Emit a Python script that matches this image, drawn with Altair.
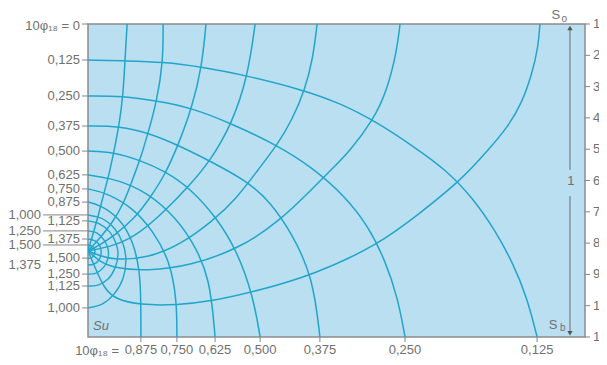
import altair as alt
import pandas as pd

# ---------------- data (units: divisions of the right-hand scale 1..11) ----------------
X_MAX = 15.88

# equipotential lines (10*phi18), from the left wall round the focus Su
e0125_x = [0, 1.25, 2.36, 3.64, 5.11, 6.77, 8.05, 9.27, 10.38, 11.41, 12.30, 13.00, 13.58, 14.03, 14.35]
e0125_y = [2.15, 2.18, 2.21, 2.37, 2.66, 3.08, 3.52, 4.16, 4.90, 5.63, 6.56, 7.58, 8.64, 9.75, 11.0]
e0250_x = [0, 1.12, 2.20, 3.32, 4.60, 6.04, 7.19, 8.21, 8.95, 9.49, 9.90, 10.13]
e0250_y = [3.30, 3.30, 3.46, 3.68, 4.19, 4.87, 5.60, 6.50, 7.45, 8.54, 9.75, 11.0]
e0375_x = [0, 1.02, 1.92, 2.88, 3.90, 5.08, 5.81, 6.55, 7.19, 7.41]
e0375_y = [4.26, 4.26, 4.48, 4.87, 5.38, 6.02, 6.66, 7.74, 9.12, 11.0]
e0500_x = [0, 0.80, 1.66, 2.46, 3.26, 4.12, 4.76, 5.27, 5.50]
e0500_y = [5.06, 5.09, 5.35, 5.70, 6.24, 7.20, 8.25, 9.66, 11.0]
e0625_x = [0, 0.70, 1.66, 2.62, 3.35, 3.90, 4.06]
e0625_y = [5.82, 5.92, 6.24, 6.97, 7.93, 9.12, 11.0]
e0750_x = [0, 0.61, 1.44, 2.08, 2.62, 2.84, 2.84]
e0750_y = [6.27, 6.40, 6.88, 7.61, 8.57, 9.85, 11.0]
e0875_x = [0, 0.38, 1.02, 1.44, 1.66, 1.69, 1.69]
e0875_y = [6.69, 6.78, 7.20, 7.93, 8.89, 9.91, 11.0]
e1000_x = [0, 0.48, 0.86, 1.12, 1.21, 1.12, 0.83, 0.45, 0]
e1000_y = [7.10, 7.23, 7.55, 8.03, 8.54, 9.12, 9.63, 9.95, 10.07]
e1125_x = [0, 0.38, 0.70, 0.89, 0.96, 0.86, 0.64, 0.32, 0]
e1125_y = [7.29, 7.39, 7.65, 8.00, 8.35, 8.80, 9.15, 9.34, 9.37]
e1250_x = [0, 0.29, 0.51, 0.64, 0.64, 0.51, 0.26, 0]
e1250_y = [7.61, 7.68, 7.90, 8.19, 8.48, 8.76, 8.96, 8.99]
e1375_x = [0, 0.22, 0.38, 0.42, 0.35, 0.19, 0]
e1375_y = [7.87, 7.93, 8.09, 8.32, 8.54, 8.67, 8.70]
e1500_x = [0, 0.16, 0.22, 0.19, 0.10, 0]
e1500_y = [8.06, 8.12, 8.25, 8.38, 8.48, 8.48]

# flow lines from the focus Su to the top edge
f1_x = [1.25, 1.18, 1.12, 0.99, 0.83, 0.67, 0.51, 0.35, 0.19, 0]
f1_y = [1.0, 2.18, 3.30, 4.26, 5.06, 5.82, 6.40, 7.04, 7.61, 8.25]
f2_x = [2.40, 2.40, 2.20, 1.92, 1.66, 1.44, 1.15, 0.77, 0.38, 0]
f2_y = [1.0, 2.21, 3.46, 4.48, 5.35, 5.92, 6.72, 7.36, 7.84, 8.25]
f3_x = [3.77, 3.64, 3.32, 2.88, 2.46, 1.98, 1.50, 0.86, 0.38, 0]
f3_y = [1.0, 2.37, 3.68, 4.87, 5.82, 6.56, 7.20, 7.74, 8.06, 8.25]
f4_x = [5.34, 5.11, 4.60, 3.90, 3.26, 2.46, 1.66, 0.86, 0]
f4_y = [1.0, 2.66, 4.19, 5.38, 6.14, 6.97, 7.68, 8.09, 8.25]
f5_x = [7.32, 7.19, 6.93, 6.52, 6.04, 5.43, 4.76, 3.99, 2.94, 1.89, 0.86, 0.38, 0]
f5_y = [1.0, 2.09, 3.11, 4.07, 4.87, 5.66, 6.56, 7.29, 8.06, 8.48, 8.54, 8.41, 8.25]
f6_x = [9.97, 9.87, 9.55, 9.11, 8.37, 7.73, 7.19, 6.13, 4.86, 3.26, 1.89, 0.86, 0.38, 0]
f6_y = [1.0, 1.86, 3.14, 4.07, 5.06, 5.70, 6.24, 7.29, 8.16, 8.73, 8.89, 8.80, 8.60, 8.25]
f7_x = [0, 0.26, 0.51, 0.86, 1.66, 2.84, 3.99, 5.40, 7.19, 9.27, 10.61, 11.89, 12.84, 13.39, 13.87, 14.19, 14.38, 14.44]
f7_y = [8.25, 8.86, 9.43, 9.79, 9.98, 9.98, 9.85, 9.53, 9.02, 8.06, 7.04, 6.02, 4.96, 4.32, 3.52, 2.57, 1.77, 1.0]

# left-hand labels (where the equipotentials meet the wall)
left_inner_labels = ["0,125", "0,250", "0,375", "0,500", "0,625", "0,750", "0,875",
                     "1,125", "1,375", "1,500", "1,250", "1,125", "1,000"]
left_inner_y = [2.15, 3.30, 4.26, 5.06, 5.82, 6.27, 6.69, 7.29, 7.87, 8.48, 8.99, 9.37, 10.07]
left_outer_labels = ["1,000", "1,250", "1,500", "1,375"]
left_outer_y = [7.10, 7.61, 8.06, 8.70]
left_outer_line = [True, True, True, False]
top_label = "10φ₁₈ = 0"
top_label_y = [1.0]

# bottom labels (where the equipotentials meet the bottom)
bottom_labels = ["0,875", "0,750", "0,625", "0,500", "0,375", "0,250", "0,125"]
bottom_x = [1.69, 2.84, 4.06, 5.50, 7.41, 10.13, 14.35]
bottom_prefix = "10φ₁₈ ="

# right-hand scale
right_ticks = list(range(1, 12))

# annotations
arrow_x = 15.40
arrow_seg_y1 = [1.19, 6.50]
arrow_seg_y2 = [5.66, 10.81]
arrow_head_up_y = 1.13
arrow_head_down_y = 10.88
arrow_label = "1"
arrow_label_y = 6.02
notes_text = ["S", "o", "S", "b"]
notes_x = [14.95, 15.22, 14.86, 15.17]
notes_y = [0.70, 0.84, 10.62, 10.72]
notes_size = [13, 10, 13, 10]
su_text = "Su"
su_x = 0.16
su_y = 10.66

# ---------------- build tables ----------------
big_curves = [
    ("e0125", e0125_x, e0125_y), ("e0250", e0250_x, e0250_y), ("e0375", e0375_x, e0375_y),
    ("e0500", e0500_x, e0500_y), ("e0625", e0625_x, e0625_y), ("e0750", e0750_x, e0750_y),
    ("e0875", e0875_x, e0875_y),
    ("f1", f1_x, f1_y), ("f2", f2_x, f2_y), ("f3", f3_x, f3_y), ("f4", f4_x, f4_y),
    ("f5", f5_x, f5_y), ("f6", f6_x, f6_y), ("f7", f7_x, f7_y),
]
small_curves = [
    ("e1000", e1000_x, e1000_y), ("e1125", e1125_x, e1125_y),
    ("e1250", e1250_x, e1250_y), ("e1375", e1375_x, e1375_y), ("e1500", e1500_x, e1500_y),
]


def to_rows(curves):
    rows = []
    for name, cx, cy in curves:
        for i, (a, b) in enumerate(zip(cx, cy)):
            rows.append({"curve": name, "i": i, "x": a, "y": b})
    return pd.DataFrame(rows)


big_df = to_rows(big_curves)
small_df = to_rows(small_curves)

inner_df = pd.DataFrame({"label": left_inner_labels, "y": left_inner_y})
outer_df = pd.DataFrame({"label": left_outer_labels, "y": left_outer_y, "line": left_outer_line})
top_df = pd.DataFrame({"label": [top_label], "y": top_label_y})
bottom_df = pd.DataFrame({"label": bottom_labels, "x": bottom_x})
right_df = pd.DataFrame({"y": right_ticks, "label": [str(t) for t in right_ticks]})
arrow_df = pd.DataFrame({"x": [arrow_x, arrow_x], "y": arrow_seg_y1, "y2": arrow_seg_y2})
head_df = pd.DataFrame({"x": [arrow_x, arrow_x], "y": [arrow_head_up_y, arrow_head_down_y],
                        "shape": ["triangle-up", "triangle-down"]})
notes_df = pd.DataFrame({"t": notes_text, "x": notes_x, "y": notes_y, "s": notes_size})
misc_df = pd.DataFrame({"t": [arrow_label], "x": [arrow_x + 0.03], "y": [arrow_label_y]})
su_df = pd.DataFrame({"t": [su_text], "x": [su_x], "y": [su_y]})

# ---------------- styles ----------------
LINE = "#22a5cb"
BG = "#badff0"
TXT = "#707070"
TICK = "#858585"
FONT = "Liberation Sans"
FS = 13
W, H = 497, 313

xs = alt.Scale(domain=[0, X_MAX], nice=False, zero=False)
ys = alt.Scale(domain=[1, 11], reverse=True, nice=False, zero=False)
X = alt.X("x:Q", scale=xs, axis=None)
Y = alt.Y("y:Q", scale=ys, axis=None)

lines_big = alt.Chart(big_df).mark_line(
    interpolate="basis", clip=True, color=LINE, strokeWidth=1.5
).encode(x=X, y=Y, detail="curve:N", order="i:Q")

lines_small = alt.Chart(small_df).mark_line(
    interpolate="catmull-rom", clip=True, color=LINE, strokeWidth=1.4
).encode(x=X, y=Y, detail="curve:N", order="i:Q")

inner_ticks = alt.Chart(inner_df).mark_rule(color=TICK, strokeWidth=1).encode(
    x=alt.value(-6), x2=alt.value(0), y=Y)
inner_text = alt.Chart(inner_df).mark_text(
    align="right", baseline="middle", fontSize=FS, font=FONT, color=TXT
).encode(x=alt.value(-8), y=Y, text="label:N")

outer_lines = alt.Chart(outer_df).transform_filter("datum.line").mark_rule(
    color=TICK, strokeWidth=1).encode(x=alt.value(-45), x2=alt.value(0), y=Y)
outer_text = alt.Chart(outer_df).mark_text(
    align="right", baseline="middle", fontSize=FS, font=FONT, color=TXT
).encode(x=alt.value(-47), y=Y, text="label:N")

top_tick = alt.Chart(top_df).mark_rule(color=TICK, strokeWidth=1).encode(
    x=alt.value(-6), x2=alt.value(0), y=Y)
top_text = alt.Chart(top_df).mark_text(
    align="right", baseline="middle", fontSize=FS, font=FONT, color=TXT, dy=2
).encode(x=alt.value(-8), y=Y, text="label:N")

bottom_ticks = alt.Chart(bottom_df).mark_rule(color=TICK, strokeWidth=1).encode(
    x=X, y=alt.value(H), y2=alt.value(H + 5))
bottom_text = alt.Chart(bottom_df).mark_text(
    align="center", baseline="middle", fontSize=FS, font=FONT, color=TXT
).encode(x=X, y=alt.value(H + 13), text="label:N")
bottom_prefix_text = alt.Chart(pd.DataFrame({"t": [bottom_prefix]})).mark_text(
    align="right", baseline="middle", fontSize=FS, font=FONT, color=TXT
).encode(x=alt.value(31), y=alt.value(H + 14), text="t:N")

right_tick_marks = alt.Chart(right_df).mark_rule(color=TICK, strokeWidth=1).encode(
    x=alt.value(W), x2=alt.value(W + 5), y=Y)
right_text = alt.Chart(right_df).mark_text(
    align="left", baseline="middle", fontSize=FS, font=FONT, color=TXT
).encode(x=alt.value(W + 8), y=Y, text="label:N")

arrow = alt.Chart(arrow_df).mark_rule(color="#6a6a6a", strokeWidth=1).encode(
    x=X, y=Y, y2="y2:Q")
heads = alt.Chart(head_df).mark_point(filled=True, size=28, color="#555555", opacity=1).encode(
    x=X, y=Y, shape=alt.Shape("shape:N", scale=None, legend=None))
arrow_text = alt.Chart(misc_df).mark_text(
    align="center", baseline="middle", fontSize=FS, font=FONT, color=TXT
).encode(x=X, y=Y, text="t:N")
notes = alt.Chart(notes_df).mark_text(
    align="center", baseline="middle", font=FONT, color=TXT
).encode(x=X, y=Y, text="t:N", size=alt.Size("s:Q", scale=None, legend=None))
su = alt.Chart(su_df).mark_text(
    align="left", baseline="middle", fontSize=FS, font=FONT, color=TXT, fontStyle="italic"
).encode(x=X, y=Y, text="t:N")

chart = alt.layer(
    lines_big, lines_small, inner_ticks, inner_text, outer_lines, outer_text, top_tick, top_text,
    bottom_ticks, bottom_text, bottom_prefix_text, right_tick_marks, right_text,
    arrow, heads, arrow_text, notes, su
).properties(
    width=W, height=H,
    autosize=alt.AutoSizeParams(type="none"),
    padding={"left": 80, "top": 16, "right": 14, "bottom": 20},
).configure_view(
    stroke="#8c8c8c", strokeWidth=1.5, fill=BG
)

chart.save("out.html", embed_options={"renderer": "svg", "actions": False})
